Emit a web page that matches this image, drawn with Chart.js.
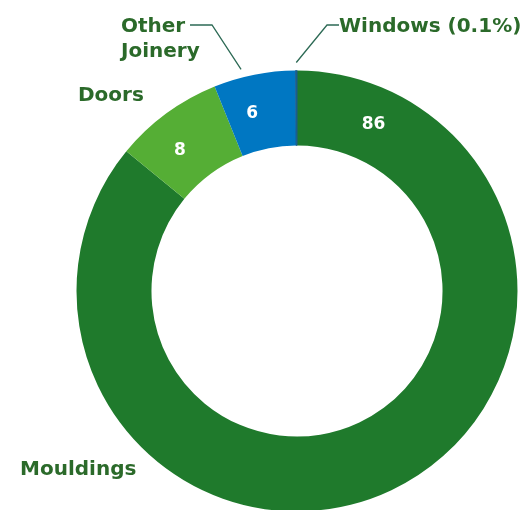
<!DOCTYPE html>
<html>
<head>
<meta charset="utf-8">
<script src="https://cdn.jsdelivr.net/npm/chart.js@4.4.0/dist/chart.umd.min.js"></script>
<style>
    html, body { margin: 0; padding: 0; background: #fff; overflow: hidden; }
    #contenedor { position: relative; width: 522px; height: 512px; }
</style>
</head>
<body>
<div id="contenedor"><canvas id="grafico"></canvas></div>
<script>
//DATOS DEL GRÁFICO (PORCENTAJE POR CATEGORÍA).
const categorias = ['Mouldings', 'Doors', 'Other Joinery', 'Windows'];
const valores = [86, 8, 6, 0.1];
const etiquetasValor = ['86', '8', '6', ''];

//COLORES DE CADA SEGMENTO Y DE LOS TEXTOS.
const colores = ['#1f7a2c', '#55ae35', '#0077c2', '#1b5d8c'];
const colorTexto = '#2b6a2a';
const colorLinea = '#2d6a55';
const fuente = '"DejaVu Sans", sans-serif';

//UBICACIÓN DE LOS RÓTULOS EXTERIORES. "fraccion" = posición del número dentro del arco.
const rotulos = [
    { fraccion: 0.08, x: 20, y: 475 },
    { fraccion: 0.38, x: 78, y: 101 },
    { fraccion: 0.36, x: 121, y: 32, salto: 25, codo: [212, 25], fin: [190, 25] },
    { fraccion: 0.5, x: 339, y: 32, codo: [327, 25], fin: [339, 25], conValor: true }
];

//PLUGIN PARA DIBUJAR LOS NÚMEROS Y LOS NOMBRES CON SUS LÍNEAS GUÍA.
const pluginEtiquetas = {
    id: 'etiquetas',
    afterDatasetsDraw(chart) {
        const ctx = chart.ctx;
        const arcos = chart.getDatasetMeta(0).data;
        ctx.save();
        arcos.forEach((arco, i) => {
            const p = arco.getProps(['x', 'y', 'startAngle', 'endAngle', 'innerRadius', 'outerRadius'], true);
            const cfg = rotulos[i];
            const ang = p.startAngle + cfg.fraccion * (p.endAngle - p.startAngle);

            //Número blanco dentro del anillo.
            if (etiquetasValor[i]) {
                const r = (p.innerRadius + p.outerRadius) / 2;
                ctx.fillStyle = '#ffffff';
                ctx.font = 'bold 17px ' + fuente;
                ctx.textAlign = 'center';
                ctx.textBaseline = 'middle';
                ctx.fillText(etiquetasValor[i], p.x + r * Math.cos(ang), p.y + r * Math.sin(ang));
            }

            //Línea guía desde el borde del anillo.
            if (cfg.codo) {
                const r = p.outerRadius + 8;
                ctx.strokeStyle = colorLinea;
                ctx.lineWidth = 1.3;
                ctx.beginPath();
                ctx.moveTo(p.x + r * Math.cos(ang), p.y + r * Math.sin(ang));
                ctx.lineTo(cfg.codo[0], cfg.codo[1]);
                ctx.lineTo(cfg.fin[0], cfg.fin[1]);
                ctx.stroke();
            }

            //Nombre de la categoría.
            const texto = cfg.conValor ? categorias[i] + ' (' + valores[i] + '%)' : categorias[i];
            const lineas = cfg.salto ? texto.split(' ') : [texto];
            ctx.fillStyle = colorTexto;
            ctx.font = 'bold 20px ' + fuente;
            ctx.textAlign = 'left';
            ctx.textBaseline = 'alphabetic';
            lineas.forEach((linea, j) => {
                ctx.fillText(linea, cfg.x, cfg.y + j * (cfg.salto || 0));
            });
        });
        ctx.restore();
    }
};

const ctx = document.getElementById('grafico');
const grafico = new Chart(ctx, {
    type: 'doughnut',
    data: {
        labels: categorias,
        datasets: [{
            data: valores,
            backgroundColor: colores,
            //Solo el segmento más delgado lleva borde de su mismo color para que se vea.
            borderColor: colores,
            borderWidth: [0, 0, 0, 1],
            borderAlign: 'center'
        }]
    },
    options: {
        responsive: true,
        maintainAspectRatio: false,
        animation: false,
        cutout: '66%',
        layout: { padding: { left: 76, right: 4, top: 70, bottom: 0 } },
        plugins: {
            legend: { display: false },
            tooltip: { enabled: false }
        }
    },
    plugins: [pluginEtiquetas]
});
</script>
</body>
</html>
